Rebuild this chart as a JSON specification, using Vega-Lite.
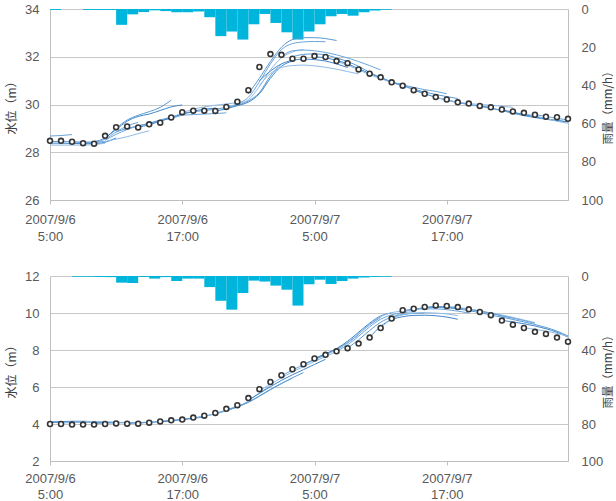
{
  "$schema": "https://vega.github.io/schema/vega-lite/v6.json",
  "background": "white",
  "padding": {"left": 5, "top": 3, "right": 0, "bottom": 0},
  "spacing": 26,
  "datasets": {
    "obsTop": [
      {"t":"2007-09-06T05:00","v":28.48},{"t":"2007-09-06T06:00","v":28.48},{"t":"2007-09-06T07:00","v":28.44},{"t":"2007-09-06T08:00","v":28.38},
      {"t":"2007-09-06T09:00","v":28.36},{"t":"2007-09-06T10:00","v":28.69},{"t":"2007-09-06T11:00","v":29.05},{"t":"2007-09-06T12:00","v":29.08},
      {"t":"2007-09-06T13:00","v":29.04},{"t":"2007-09-06T14:00","v":29.17},{"t":"2007-09-06T15:00","v":29.24},{"t":"2007-09-06T16:00","v":29.46},
      {"t":"2007-09-06T17:00","v":29.68},{"t":"2007-09-06T18:00","v":29.74},{"t":"2007-09-06T19:00","v":29.74},{"t":"2007-09-06T20:00","v":29.73},
      {"t":"2007-09-06T21:00","v":29.9},{"t":"2007-09-06T22:00","v":30.12},{"t":"2007-09-06T23:00","v":30.6},{"t":"2007-09-07T00:00","v":31.57},
      {"t":"2007-09-07T01:00","v":32.11},{"t":"2007-09-07T02:00","v":32.08},{"t":"2007-09-07T03:00","v":31.92},{"t":"2007-09-07T04:00","v":31.92},
      {"t":"2007-09-07T05:00","v":32.03},{"t":"2007-09-07T06:00","v":31.99},{"t":"2007-09-07T07:00","v":31.82},{"t":"2007-09-07T08:00","v":31.73},
      {"t":"2007-09-07T09:00","v":31.47},{"t":"2007-09-07T10:00","v":31.29},{"t":"2007-09-07T11:00","v":31.14},{"t":"2007-09-07T12:00","v":30.93},
      {"t":"2007-09-07T13:00","v":30.79},{"t":"2007-09-07T14:00","v":30.6},{"t":"2007-09-07T15:00","v":30.45},{"t":"2007-09-07T16:00","v":30.31},
      {"t":"2007-09-07T17:00","v":30.21},{"t":"2007-09-07T18:00","v":30.09},{"t":"2007-09-07T19:00","v":30.04},{"t":"2007-09-07T20:00","v":29.94},
      {"t":"2007-09-07T21:00","v":29.88},{"t":"2007-09-07T22:00","v":29.79},{"t":"2007-09-07T23:00","v":29.71},{"t":"2007-09-08T00:00","v":29.65},
      {"t":"2007-09-08T01:00","v":29.57},{"t":"2007-09-08T02:00","v":29.49},{"t":"2007-09-08T03:00","v":29.47},{"t":"2007-09-08T04:00","v":29.4}
    ],
    "obsBottom": [
      {"t":"2007-09-06T05:00","v":4.0},{"t":"2007-09-06T06:00","v":4.0},{"t":"2007-09-06T07:00","v":3.97},{"t":"2007-09-06T08:00","v":3.97},
      {"t":"2007-09-06T09:00","v":3.97},{"t":"2007-09-06T10:00","v":4.0},{"t":"2007-09-06T11:00","v":4.03},{"t":"2007-09-06T12:00","v":4.02},
      {"t":"2007-09-06T13:00","v":4.02},{"t":"2007-09-06T14:00","v":4.07},{"t":"2007-09-06T15:00","v":4.14},{"t":"2007-09-06T16:00","v":4.2},
      {"t":"2007-09-06T17:00","v":4.24},{"t":"2007-09-06T18:00","v":4.35},{"t":"2007-09-06T19:00","v":4.45},{"t":"2007-09-06T20:00","v":4.6},
      {"t":"2007-09-06T21:00","v":4.82},{"t":"2007-09-06T22:00","v":5.02},{"t":"2007-09-06T23:00","v":5.4},{"t":"2007-09-07T00:00","v":5.88},
      {"t":"2007-09-07T01:00","v":6.27},{"t":"2007-09-07T02:00","v":6.64},{"t":"2007-09-07T03:00","v":6.96},{"t":"2007-09-07T04:00","v":7.23},
      {"t":"2007-09-07T05:00","v":7.54},{"t":"2007-09-07T06:00","v":7.74},{"t":"2007-09-07T07:00","v":7.93},{"t":"2007-09-07T08:00","v":8.1},
      {"t":"2007-09-07T09:00","v":8.35},{"t":"2007-09-07T10:00","v":8.67},{"t":"2007-09-07T11:00","v":9.19},{"t":"2007-09-07T12:00","v":9.7},
      {"t":"2007-09-07T13:00","v":10.15},{"t":"2007-09-07T14:00","v":10.23},{"t":"2007-09-07T15:00","v":10.33},{"t":"2007-09-07T16:00","v":10.41},
      {"t":"2007-09-07T17:00","v":10.38},{"t":"2007-09-07T18:00","v":10.32},{"t":"2007-09-07T19:00","v":10.2},{"t":"2007-09-07T20:00","v":10.06},
      {"t":"2007-09-07T21:00","v":9.88},{"t":"2007-09-07T22:00","v":9.59},{"t":"2007-09-07T23:00","v":9.37},{"t":"2007-09-08T00:00","v":9.19},
      {"t":"2007-09-08T01:00","v":8.98},{"t":"2007-09-08T02:00","v":8.87},{"t":"2007-09-08T03:00","v":8.67},{"t":"2007-09-08T04:00","v":8.45}
    ],
    "rainTop": [
      {"t":"2007-09-06T05:00","t_end":"2007-09-06T06:00","rain":0.5},
      {"t":"2007-09-06T08:00","t_end":"2007-09-06T09:00","rain":0.5},
      {"t":"2007-09-06T09:00","t_end":"2007-09-06T10:00","rain":0.5},
      {"t":"2007-09-06T10:00","t_end":"2007-09-06T11:00","rain":0.5},
      {"t":"2007-09-06T11:00","t_end":"2007-09-06T12:00","rain":8.3},
      {"t":"2007-09-06T12:00","t_end":"2007-09-06T13:00","rain":2.8},
      {"t":"2007-09-06T13:00","t_end":"2007-09-06T14:00","rain":1.6},
      {"t":"2007-09-06T14:00","t_end":"2007-09-06T15:00","rain":0.7},
      {"t":"2007-09-06T15:00","t_end":"2007-09-06T16:00","rain":1.1},
      {"t":"2007-09-06T16:00","t_end":"2007-09-06T17:00","rain":1.7},
      {"t":"2007-09-06T17:00","t_end":"2007-09-06T18:00","rain":1.7},
      {"t":"2007-09-06T18:00","t_end":"2007-09-06T19:00","rain":1.3},
      {"t":"2007-09-06T19:00","t_end":"2007-09-06T20:00","rain":4.3},
      {"t":"2007-09-06T20:00","t_end":"2007-09-06T21:00","rain":14.2},
      {"t":"2007-09-06T21:00","t_end":"2007-09-06T22:00","rain":11.8},
      {"t":"2007-09-06T22:00","t_end":"2007-09-06T23:00","rain":16.0},
      {"t":"2007-09-06T23:00","t_end":"2007-09-07T00:00","rain":8.0},
      {"t":"2007-09-07T00:00","t_end":"2007-09-07T01:00","rain":2.6},
      {"t":"2007-09-07T01:00","t_end":"2007-09-07T02:00","rain":7.3},
      {"t":"2007-09-07T02:00","t_end":"2007-09-07T03:00","rain":12.2},
      {"t":"2007-09-07T03:00","t_end":"2007-09-07T04:00","rain":16.0},
      {"t":"2007-09-07T04:00","t_end":"2007-09-07T05:00","rain":11.8},
      {"t":"2007-09-07T05:00","t_end":"2007-09-07T06:00","rain":8.0},
      {"t":"2007-09-07T06:00","t_end":"2007-09-07T07:00","rain":3.8},
      {"t":"2007-09-07T07:00","t_end":"2007-09-07T08:00","rain":2.6},
      {"t":"2007-09-07T08:00","t_end":"2007-09-07T09:00","rain":3.5},
      {"t":"2007-09-07T09:00","t_end":"2007-09-07T10:00","rain":1.7},
      {"t":"2007-09-07T10:00","t_end":"2007-09-07T11:00","rain":0.8},
      {"t":"2007-09-07T11:00","t_end":"2007-09-07T12:00","rain":0.4}
    ],
    "rainBottom": [
      {"t":"2007-09-06T07:00","t_end":"2007-09-06T08:00","rain":0.4},
      {"t":"2007-09-06T08:00","t_end":"2007-09-06T09:00","rain":0.4},
      {"t":"2007-09-06T09:00","t_end":"2007-09-06T10:00","rain":0.5},
      {"t":"2007-09-06T10:00","t_end":"2007-09-06T11:00","rain":0.6},
      {"t":"2007-09-06T11:00","t_end":"2007-09-06T12:00","rain":3.6},
      {"t":"2007-09-06T12:00","t_end":"2007-09-06T13:00","rain":3.8},
      {"t":"2007-09-06T13:00","t_end":"2007-09-06T14:00","rain":0.5},
      {"t":"2007-09-06T14:00","t_end":"2007-09-06T15:00","rain":1.4},
      {"t":"2007-09-06T15:00","t_end":"2007-09-06T16:00","rain":0.6},
      {"t":"2007-09-06T16:00","t_end":"2007-09-06T17:00","rain":2.7},
      {"t":"2007-09-06T17:00","t_end":"2007-09-06T18:00","rain":1.4},
      {"t":"2007-09-06T18:00","t_end":"2007-09-06T19:00","rain":1.4},
      {"t":"2007-09-06T19:00","t_end":"2007-09-06T20:00","rain":6.0},
      {"t":"2007-09-06T20:00","t_end":"2007-09-06T21:00","rain":13.4},
      {"t":"2007-09-06T21:00","t_end":"2007-09-06T22:00","rain":18.2},
      {"t":"2007-09-06T22:00","t_end":"2007-09-06T23:00","rain":9.2},
      {"t":"2007-09-06T23:00","t_end":"2007-09-07T00:00","rain":2.5},
      {"t":"2007-09-07T00:00","t_end":"2007-09-07T01:00","rain":3.0},
      {"t":"2007-09-07T01:00","t_end":"2007-09-07T02:00","rain":5.2},
      {"t":"2007-09-07T02:00","t_end":"2007-09-07T03:00","rain":7.4},
      {"t":"2007-09-07T03:00","t_end":"2007-09-07T04:00","rain":16.0},
      {"t":"2007-09-07T04:00","t_end":"2007-09-07T05:00","rain":4.5},
      {"t":"2007-09-07T05:00","t_end":"2007-09-07T06:00","rain":2.0},
      {"t":"2007-09-07T06:00","t_end":"2007-09-07T07:00","rain":4.3},
      {"t":"2007-09-07T07:00","t_end":"2007-09-07T08:00","rain":2.7},
      {"t":"2007-09-07T08:00","t_end":"2007-09-07T09:00","rain":1.4},
      {"t":"2007-09-07T09:00","t_end":"2007-09-07T10:00","rain":0.8},
      {"t":"2007-09-07T10:00","t_end":"2007-09-07T11:00","rain":0.5},
      {"t":"2007-09-07T11:00","t_end":"2007-09-07T12:00","rain":0.4}
    ],
    "fcTop": [
      {"run":"T01","t":"2007-09-06T05:00","v":28.68},{"run":"T01","t":"2007-09-06T06:00","v":28.7},{"run":"T01","t":"2007-09-06T07:00","v":28.74},
      {"run":"T02","t":"2007-09-06T05:00","v":28.45},{"run":"T02","t":"2007-09-06T06:00","v":28.45},{"run":"T02","t":"2007-09-06T07:00","v":28.44},{"run":"T02","t":"2007-09-06T08:00","v":28.42},{"run":"T02","t":"2007-09-06T09:00","v":28.42},{"run":"T02","t":"2007-09-06T10:00","v":28.45},
      {"run":"T03","t":"2007-09-06T05:00","v":28.38},{"run":"T03","t":"2007-09-06T06:00","v":28.38},{"run":"T03","t":"2007-09-06T07:00","v":28.37},{"run":"T03","t":"2007-09-06T08:00","v":28.36},{"run":"T03","t":"2007-09-06T09:00","v":28.36},{"run":"T03","t":"2007-09-06T10:00","v":28.42},{"run":"T03","t":"2007-09-06T11:00","v":28.6},
      {"run":"T04","t":"2007-09-06T05:00","v":28.3},{"run":"T04","t":"2007-09-06T06:00","v":28.3},{"run":"T04","t":"2007-09-06T07:00","v":28.3},{"run":"T04","t":"2007-09-06T08:00","v":28.3},{"run":"T04","t":"2007-09-06T09:00","v":28.32},{"run":"T04","t":"2007-09-06T10:00","v":28.38},
      {"run":"T05","t":"2007-09-06T07:00","v":28.42},{"run":"T05","t":"2007-09-06T08:00","v":28.42},{"run":"T05","t":"2007-09-06T09:00","v":28.42},{"run":"T05","t":"2007-09-06T10:00","v":28.55},{"run":"T05","t":"2007-09-06T11:00","v":28.85},{"run":"T05","t":"2007-09-06T12:00","v":29.1},{"run":"T05","t":"2007-09-06T13:00","v":29.25},
      {"run":"T06","t":"2007-09-06T09:00","v":28.45},{"run":"T06","t":"2007-09-06T10:00","v":28.6},{"run":"T06","t":"2007-09-06T11:00","v":29.0},{"run":"T06","t":"2007-09-06T12:00","v":29.35},{"run":"T06","t":"2007-09-06T13:00","v":29.55},{"run":"T06","t":"2007-09-06T14:00","v":29.7},{"run":"T06","t":"2007-09-06T15:00","v":29.88},{"run":"T06","t":"2007-09-06T16:00","v":30.18},
      {"run":"T07","t":"2007-09-06T10:00","v":28.6},{"run":"T07","t":"2007-09-06T11:00","v":28.95},{"run":"T07","t":"2007-09-06T12:00","v":29.3},{"run":"T07","t":"2007-09-06T13:00","v":29.5},{"run":"T07","t":"2007-09-06T14:00","v":29.6},{"run":"T07","t":"2007-09-06T15:00","v":29.75},{"run":"T07","t":"2007-09-06T16:00","v":29.9},{"run":"T07","t":"2007-09-06T17:00","v":29.98},
      {"run":"T08","t":"2007-09-06T09:00","v":28.38},{"run":"T08","t":"2007-09-06T10:00","v":28.45},{"run":"T08","t":"2007-09-06T11:00","v":28.55},{"run":"T08","t":"2007-09-06T12:00","v":28.65},{"run":"T08","t":"2007-09-06T13:00","v":28.78},{"run":"T08","t":"2007-09-06T14:00","v":28.9},
      {"run":"T09","t":"2007-09-06T10:00","v":28.5},{"run":"T09","t":"2007-09-06T11:00","v":28.75},{"run":"T09","t":"2007-09-06T12:00","v":28.95},{"run":"T09","t":"2007-09-06T13:00","v":29.1},{"run":"T09","t":"2007-09-06T14:00","v":29.2},{"run":"T09","t":"2007-09-06T15:00","v":29.32},{"run":"T09","t":"2007-09-06T16:00","v":29.42},{"run":"T09","t":"2007-09-06T17:00","v":29.55},
      {"run":"T10","t":"2007-09-06T11:00","v":28.85},{"run":"T10","t":"2007-09-06T12:00","v":29.0},{"run":"T10","t":"2007-09-06T13:00","v":29.1},{"run":"T10","t":"2007-09-06T14:00","v":29.22},{"run":"T10","t":"2007-09-06T15:00","v":29.35},{"run":"T10","t":"2007-09-06T16:00","v":29.48},{"run":"T10","t":"2007-09-06T17:00","v":29.6},{"run":"T10","t":"2007-09-06T18:00","v":29.7},
      {"run":"T11","t":"2007-09-06T13:00","v":29.05},{"run":"T11","t":"2007-09-06T14:00","v":29.15},{"run":"T11","t":"2007-09-06T15:00","v":29.3},{"run":"T11","t":"2007-09-06T16:00","v":29.45},{"run":"T11","t":"2007-09-06T17:00","v":29.6},{"run":"T11","t":"2007-09-06T18:00","v":29.72},{"run":"T11","t":"2007-09-06T19:00","v":29.8},{"run":"T11","t":"2007-09-06T20:00","v":29.85},
      {"run":"T12","t":"2007-09-06T16:00","v":29.45},{"run":"T12","t":"2007-09-06T17:00","v":29.65},{"run":"T12","t":"2007-09-06T18:00","v":29.8},{"run":"T12","t":"2007-09-06T19:00","v":29.9},{"run":"T12","t":"2007-09-06T20:00","v":29.97},{"run":"T12","t":"2007-09-06T21:00","v":30.02},{"run":"T12","t":"2007-09-06T22:00","v":30.08},
      {"run":"T13","t":"2007-09-06T17:00","v":29.55},{"run":"T13","t":"2007-09-06T18:00","v":29.58},{"run":"T13","t":"2007-09-06T19:00","v":29.6},{"run":"T13","t":"2007-09-06T20:00","v":29.62},{"run":"T13","t":"2007-09-06T21:00","v":29.65},
      {"run":"T14","t":"2007-09-06T18:00","v":29.7},{"run":"T14","t":"2007-09-06T19:00","v":29.75},{"run":"T14","t":"2007-09-06T20:00","v":29.8},{"run":"T14","t":"2007-09-06T21:00","v":29.88},{"run":"T14","t":"2007-09-06T22:00","v":29.98},{"run":"T14","t":"2007-09-06T23:00","v":30.15},{"run":"T14","t":"2007-09-07T00:00","v":30.5},{"run":"T14","t":"2007-09-07T01:00","v":31.2},{"run":"T14","t":"2007-09-07T02:00","v":31.7},
      {"run":"T15","t":"2007-09-06T20:00","v":29.72},{"run":"T15","t":"2007-09-06T21:00","v":29.82},{"run":"T15","t":"2007-09-06T22:00","v":29.95},{"run":"T15","t":"2007-09-06T23:00","v":30.1},{"run":"T15","t":"2007-09-07T00:00","v":30.45},{"run":"T15","t":"2007-09-07T01:00","v":31.1},{"run":"T15","t":"2007-09-07T02:00","v":31.6},{"run":"T15","t":"2007-09-07T03:00","v":31.82},
      {"run":"T16","t":"2007-09-06T21:00","v":29.9},{"run":"T16","t":"2007-09-06T22:00","v":30.02},{"run":"T16","t":"2007-09-06T23:00","v":30.2},{"run":"T16","t":"2007-09-07T00:00","v":30.75},{"run":"T16","t":"2007-09-07T01:00","v":31.45},{"run":"T16","t":"2007-09-07T02:00","v":31.95},{"run":"T16","t":"2007-09-07T03:00","v":32.2},{"run":"T16","t":"2007-09-07T04:00","v":32.3},
      {"run":"T17","t":"2007-09-06T22:00","v":30.05},{"run":"T17","t":"2007-09-06T23:00","v":30.3},{"run":"T17","t":"2007-09-07T00:00","v":30.95},{"run":"T17","t":"2007-09-07T01:00","v":31.7},{"run":"T17","t":"2007-09-07T02:00","v":32.3},{"run":"T17","t":"2007-09-07T03:00","v":32.55},{"run":"T17","t":"2007-09-07T04:00","v":32.62},{"run":"T17","t":"2007-09-07T05:00","v":32.64},{"run":"T17","t":"2007-09-07T06:00","v":32.63},
      {"run":"T18","t":"2007-09-06T23:00","v":30.45},{"run":"T18","t":"2007-09-07T00:00","v":31.1},{"run":"T18","t":"2007-09-07T01:00","v":31.8},{"run":"T18","t":"2007-09-07T02:00","v":32.4},{"run":"T18","t":"2007-09-07T03:00","v":32.72},{"run":"T18","t":"2007-09-07T04:00","v":32.8},{"run":"T18","t":"2007-09-07T05:00","v":32.8},{"run":"T18","t":"2007-09-07T06:00","v":32.76},{"run":"T18","t":"2007-09-07T07:00","v":32.68},
      {"run":"T19","t":"2007-09-07T00:00","v":31.0},{"run":"T19","t":"2007-09-07T01:00","v":31.4},{"run":"T19","t":"2007-09-07T02:00","v":31.7},{"run":"T19","t":"2007-09-07T03:00","v":31.85},{"run":"T19","t":"2007-09-07T04:00","v":31.9},{"run":"T19","t":"2007-09-07T05:00","v":31.88},{"run":"T19","t":"2007-09-07T06:00","v":31.82},{"run":"T19","t":"2007-09-07T07:00","v":31.7},{"run":"T19","t":"2007-09-07T08:00","v":31.55},
      {"run":"T20","t":"2007-09-07T00:00","v":30.8},{"run":"T20","t":"2007-09-07T01:00","v":31.3},{"run":"T20","t":"2007-09-07T02:00","v":31.55},{"run":"T20","t":"2007-09-07T03:00","v":31.63},{"run":"T20","t":"2007-09-07T04:00","v":31.65},{"run":"T20","t":"2007-09-07T05:00","v":31.62},{"run":"T20","t":"2007-09-07T06:00","v":31.56},{"run":"T20","t":"2007-09-07T07:00","v":31.48},{"run":"T20","t":"2007-09-07T08:00","v":31.38},{"run":"T20","t":"2007-09-07T09:00","v":31.28},
      {"run":"T21","t":"2007-09-07T02:00","v":32.0},{"run":"T21","t":"2007-09-07T03:00","v":32.25},{"run":"T21","t":"2007-09-07T04:00","v":32.28},{"run":"T21","t":"2007-09-07T05:00","v":32.25},{"run":"T21","t":"2007-09-07T06:00","v":32.18},{"run":"T21","t":"2007-09-07T07:00","v":32.08},{"run":"T21","t":"2007-09-07T08:00","v":31.95},{"run":"T21","t":"2007-09-07T09:00","v":31.8},{"run":"T21","t":"2007-09-07T10:00","v":31.63},{"run":"T21","t":"2007-09-07T11:00","v":31.45},
      {"run":"T22","t":"2007-09-07T03:00","v":32.0},{"run":"T22","t":"2007-09-07T04:00","v":32.1},{"run":"T22","t":"2007-09-07T05:00","v":32.12},{"run":"T22","t":"2007-09-07T06:00","v":32.08},{"run":"T22","t":"2007-09-07T07:00","v":31.95},{"run":"T22","t":"2007-09-07T08:00","v":31.8},{"run":"T22","t":"2007-09-07T09:00","v":31.6},{"run":"T22","t":"2007-09-07T10:00","v":31.35},{"run":"T22","t":"2007-09-07T11:00","v":31.12},{"run":"T22","t":"2007-09-07T12:00","v":30.92},
      {"run":"T23","t":"2007-09-07T05:00","v":32.0},{"run":"T23","t":"2007-09-07T06:00","v":31.95},{"run":"T23","t":"2007-09-07T07:00","v":31.85},{"run":"T23","t":"2007-09-07T08:00","v":31.7},{"run":"T23","t":"2007-09-07T09:00","v":31.5},{"run":"T23","t":"2007-09-07T10:00","v":31.3},{"run":"T23","t":"2007-09-07T11:00","v":31.12},{"run":"T23","t":"2007-09-07T12:00","v":30.95},{"run":"T23","t":"2007-09-07T13:00","v":30.82},
      {"run":"T24","t":"2007-09-07T07:00","v":31.8},{"run":"T24","t":"2007-09-07T08:00","v":31.65},{"run":"T24","t":"2007-09-07T09:00","v":31.45},{"run":"T24","t":"2007-09-07T10:00","v":31.25},{"run":"T24","t":"2007-09-07T11:00","v":31.08},{"run":"T24","t":"2007-09-07T12:00","v":30.92},{"run":"T24","t":"2007-09-07T13:00","v":30.78},{"run":"T24","t":"2007-09-07T14:00","v":30.62},{"run":"T24","t":"2007-09-07T15:00","v":30.48},
      {"run":"T25","t":"2007-09-07T11:00","v":31.15},{"run":"T25","t":"2007-09-07T12:00","v":30.95},{"run":"T25","t":"2007-09-07T13:00","v":30.82},{"run":"T25","t":"2007-09-07T14:00","v":30.72},{"run":"T25","t":"2007-09-07T15:00","v":30.62},{"run":"T25","t":"2007-09-07T16:00","v":30.55},{"run":"T25","t":"2007-09-07T17:00","v":30.45},
      {"run":"T26","t":"2007-09-07T12:00","v":30.92},{"run":"T26","t":"2007-09-07T13:00","v":30.8},{"run":"T26","t":"2007-09-07T14:00","v":30.65},{"run":"T26","t":"2007-09-07T15:00","v":30.52},{"run":"T26","t":"2007-09-07T16:00","v":30.42},{"run":"T26","t":"2007-09-07T17:00","v":30.33},{"run":"T26","t":"2007-09-07T18:00","v":30.25},
      {"run":"T27","t":"2007-09-07T14:00","v":30.6},{"run":"T27","t":"2007-09-07T15:00","v":30.45},{"run":"T27","t":"2007-09-07T16:00","v":30.3},{"run":"T27","t":"2007-09-07T17:00","v":30.18},{"run":"T27","t":"2007-09-07T18:00","v":30.08},{"run":"T27","t":"2007-09-07T19:00","v":30.0},{"run":"T27","t":"2007-09-07T20:00","v":29.93},{"run":"T27","t":"2007-09-07T21:00","v":29.87},
      {"run":"T28","t":"2007-09-07T16:00","v":30.3},{"run":"T28","t":"2007-09-07T17:00","v":30.2},{"run":"T28","t":"2007-09-07T18:00","v":30.1},{"run":"T28","t":"2007-09-07T19:00","v":30.04},{"run":"T28","t":"2007-09-07T20:00","v":30.0},{"run":"T28","t":"2007-09-07T21:00","v":29.97},{"run":"T28","t":"2007-09-07T22:00","v":29.93},{"run":"T28","t":"2007-09-07T23:00","v":29.88},
      {"run":"T29","t":"2007-09-07T18:00","v":30.1},{"run":"T29","t":"2007-09-07T19:00","v":30.0},{"run":"T29","t":"2007-09-07T20:00","v":29.92},{"run":"T29","t":"2007-09-07T21:00","v":29.84},{"run":"T29","t":"2007-09-07T22:00","v":29.75},{"run":"T29","t":"2007-09-07T23:00","v":29.65},{"run":"T29","t":"2007-09-08T00:00","v":29.57},{"run":"T29","t":"2007-09-08T01:00","v":29.5},
      {"run":"T30","t":"2007-09-07T20:00","v":29.95},{"run":"T30","t":"2007-09-07T21:00","v":29.85},{"run":"T30","t":"2007-09-07T22:00","v":29.75},{"run":"T30","t":"2007-09-07T23:00","v":29.63},{"run":"T30","t":"2007-09-08T00:00","v":29.53},{"run":"T30","t":"2007-09-08T01:00","v":29.45},{"run":"T30","t":"2007-09-08T02:00","v":29.38},{"run":"T30","t":"2007-09-08T03:00","v":29.32},{"run":"T30","t":"2007-09-08T04:00","v":29.28},
      {"run":"T31","t":"2007-09-07T22:00","v":29.78},{"run":"T31","t":"2007-09-07T23:00","v":29.68},{"run":"T31","t":"2007-09-08T00:00","v":29.58},{"run":"T31","t":"2007-09-08T01:00","v":29.48},{"run":"T31","t":"2007-09-08T02:00","v":29.4},{"run":"T31","t":"2007-09-08T03:00","v":29.33},{"run":"T31","t":"2007-09-08T04:00","v":29.27},
      {"run":"T32","t":"2007-09-08T00:00","v":29.62},{"run":"T32","t":"2007-09-08T01:00","v":29.52},{"run":"T32","t":"2007-09-08T02:00","v":29.42},{"run":"T32","t":"2007-09-08T03:00","v":29.3},{"run":"T32","t":"2007-09-08T04:00","v":29.22},
      {"run":"T33","t":"2007-09-08T01:00","v":29.58},{"run":"T33","t":"2007-09-08T02:00","v":29.5},{"run":"T33","t":"2007-09-08T03:00","v":29.42},{"run":"T33","t":"2007-09-08T04:00","v":29.35}
    ],
    "fcBottom": [
      {"run":"B01","t":"2007-09-06T05:00","v":4.12},{"run":"B01","t":"2007-09-06T06:00","v":4.13},{"run":"B01","t":"2007-09-06T07:00","v":4.15},{"run":"B01","t":"2007-09-06T08:00","v":4.15},{"run":"B01","t":"2007-09-06T09:00","v":4.13},{"run":"B01","t":"2007-09-06T10:00","v":4.12},
      {"run":"B02","t":"2007-09-06T05:00","v":4.08},{"run":"B02","t":"2007-09-06T06:00","v":4.1},{"run":"B02","t":"2007-09-06T07:00","v":4.1},{"run":"B02","t":"2007-09-06T08:00","v":4.1},{"run":"B02","t":"2007-09-06T09:00","v":4.1},{"run":"B02","t":"2007-09-06T10:00","v":4.08},{"run":"B02","t":"2007-09-06T11:00","v":4.07},
      {"run":"B03","t":"2007-09-06T06:00","v":4.05},{"run":"B03","t":"2007-09-06T07:00","v":4.08},{"run":"B03","t":"2007-09-06T08:00","v":4.12},{"run":"B03","t":"2007-09-06T09:00","v":4.14},{"run":"B03","t":"2007-09-06T10:00","v":4.13},{"run":"B03","t":"2007-09-06T11:00","v":4.1},{"run":"B03","t":"2007-09-06T12:00","v":4.08},
      {"run":"B04","t":"2007-09-06T09:00","v":4.02},{"run":"B04","t":"2007-09-06T10:00","v":4.05},{"run":"B04","t":"2007-09-06T11:00","v":4.06},{"run":"B04","t":"2007-09-06T12:00","v":4.07},{"run":"B04","t":"2007-09-06T13:00","v":4.08},{"run":"B04","t":"2007-09-06T14:00","v":4.1},{"run":"B04","t":"2007-09-06T15:00","v":4.13},{"run":"B04","t":"2007-09-06T16:00","v":4.18},
      {"run":"B05","t":"2007-09-06T12:00","v":4.03},{"run":"B05","t":"2007-09-06T13:00","v":4.05},{"run":"B05","t":"2007-09-06T14:00","v":4.08},{"run":"B05","t":"2007-09-06T15:00","v":4.12},{"run":"B05","t":"2007-09-06T16:00","v":4.18},{"run":"B05","t":"2007-09-06T17:00","v":4.24},{"run":"B05","t":"2007-09-06T18:00","v":4.3},{"run":"B05","t":"2007-09-06T19:00","v":4.38},
      {"run":"B06","t":"2007-09-06T15:00","v":4.13},{"run":"B06","t":"2007-09-06T16:00","v":4.18},{"run":"B06","t":"2007-09-06T17:00","v":4.24},{"run":"B06","t":"2007-09-06T18:00","v":4.32},{"run":"B06","t":"2007-09-06T19:00","v":4.42},{"run":"B06","t":"2007-09-06T20:00","v":4.55},{"run":"B06","t":"2007-09-06T21:00","v":4.72},{"run":"B06","t":"2007-09-06T22:00","v":4.92},
      {"run":"B07","t":"2007-09-06T18:00","v":4.33},{"run":"B07","t":"2007-09-06T19:00","v":4.42},{"run":"B07","t":"2007-09-06T20:00","v":4.55},{"run":"B07","t":"2007-09-06T21:00","v":4.72},{"run":"B07","t":"2007-09-06T22:00","v":4.93},{"run":"B07","t":"2007-09-06T23:00","v":5.25},{"run":"B07","t":"2007-09-07T00:00","v":5.68},{"run":"B07","t":"2007-09-07T01:00","v":6.08},
      {"run":"B08","t":"2007-09-06T20:00","v":4.58},{"run":"B08","t":"2007-09-06T21:00","v":4.74},{"run":"B08","t":"2007-09-06T22:00","v":4.92},{"run":"B08","t":"2007-09-06T23:00","v":5.18},{"run":"B08","t":"2007-09-07T00:00","v":5.52},{"run":"B08","t":"2007-09-07T01:00","v":5.88},{"run":"B08","t":"2007-09-07T02:00","v":6.2},{"run":"B08","t":"2007-09-07T03:00","v":6.48},
      {"run":"B09","t":"2007-09-06T21:00","v":4.78},{"run":"B09","t":"2007-09-06T22:00","v":4.95},{"run":"B09","t":"2007-09-06T23:00","v":5.17},{"run":"B09","t":"2007-09-07T00:00","v":5.5},{"run":"B09","t":"2007-09-07T01:00","v":5.85},{"run":"B09","t":"2007-09-07T02:00","v":6.18},{"run":"B09","t":"2007-09-07T03:00","v":6.5},{"run":"B09","t":"2007-09-07T04:00","v":6.78},
      {"run":"B10","t":"2007-09-06T23:00","v":5.3},{"run":"B10","t":"2007-09-07T00:00","v":5.65},{"run":"B10","t":"2007-09-07T01:00","v":6.02},{"run":"B10","t":"2007-09-07T02:00","v":6.36},{"run":"B10","t":"2007-09-07T03:00","v":6.66},{"run":"B10","t":"2007-09-07T04:00","v":6.94},{"run":"B10","t":"2007-09-07T05:00","v":7.22},{"run":"B10","t":"2007-09-07T06:00","v":7.5},
      {"run":"B11","t":"2007-09-07T00:00","v":5.8},{"run":"B11","t":"2007-09-07T01:00","v":6.15},{"run":"B11","t":"2007-09-07T02:00","v":6.5},{"run":"B11","t":"2007-09-07T03:00","v":6.82},{"run":"B11","t":"2007-09-07T04:00","v":7.1},{"run":"B11","t":"2007-09-07T05:00","v":7.38},{"run":"B11","t":"2007-09-07T06:00","v":7.64},{"run":"B11","t":"2007-09-07T07:00","v":7.92},
      {"run":"B12","t":"2007-09-07T02:00","v":6.6},{"run":"B12","t":"2007-09-07T03:00","v":6.92},{"run":"B12","t":"2007-09-07T04:00","v":7.2},{"run":"B12","t":"2007-09-07T05:00","v":7.47},{"run":"B12","t":"2007-09-07T06:00","v":7.74},{"run":"B12","t":"2007-09-07T07:00","v":8.05},{"run":"B12","t":"2007-09-07T08:00","v":8.4},{"run":"B12","t":"2007-09-07T09:00","v":8.82},
      {"run":"B13","t":"2007-09-07T04:00","v":7.23},{"run":"B13","t":"2007-09-07T05:00","v":7.5},{"run":"B13","t":"2007-09-07T06:00","v":7.76},{"run":"B13","t":"2007-09-07T07:00","v":8.03},{"run":"B13","t":"2007-09-07T08:00","v":8.38},{"run":"B13","t":"2007-09-07T09:00","v":8.87},{"run":"B13","t":"2007-09-07T10:00","v":9.36},{"run":"B13","t":"2007-09-07T11:00","v":9.76},
      {"run":"B14","t":"2007-09-07T05:00","v":7.54},{"run":"B14","t":"2007-09-07T06:00","v":7.8},{"run":"B14","t":"2007-09-07T07:00","v":8.08},{"run":"B14","t":"2007-09-07T08:00","v":8.47},{"run":"B14","t":"2007-09-07T09:00","v":8.96},{"run":"B14","t":"2007-09-07T10:00","v":9.45},{"run":"B14","t":"2007-09-07T11:00","v":9.84},{"run":"B14","t":"2007-09-07T12:00","v":10.0},
      {"run":"B15","t":"2007-09-07T06:00","v":7.74},{"run":"B15","t":"2007-09-07T07:00","v":8.02},{"run":"B15","t":"2007-09-07T08:00","v":8.38},{"run":"B15","t":"2007-09-07T09:00","v":8.88},{"run":"B15","t":"2007-09-07T10:00","v":9.4},{"run":"B15","t":"2007-09-07T11:00","v":9.8},{"run":"B15","t":"2007-09-07T12:00","v":10.02},{"run":"B15","t":"2007-09-07T13:00","v":10.1},
      {"run":"B16","t":"2007-09-07T07:00","v":7.93},{"run":"B16","t":"2007-09-07T08:00","v":8.28},{"run":"B16","t":"2007-09-07T09:00","v":8.74},{"run":"B16","t":"2007-09-07T10:00","v":9.25},{"run":"B16","t":"2007-09-07T11:00","v":9.66},{"run":"B16","t":"2007-09-07T12:00","v":9.9},{"run":"B16","t":"2007-09-07T13:00","v":10.02},{"run":"B16","t":"2007-09-07T14:00","v":10.06},
      {"run":"B17","t":"2007-09-07T08:00","v":8.1},{"run":"B17","t":"2007-09-07T09:00","v":8.55},{"run":"B17","t":"2007-09-07T10:00","v":9.05},{"run":"B17","t":"2007-09-07T11:00","v":9.5},{"run":"B17","t":"2007-09-07T12:00","v":9.78},{"run":"B17","t":"2007-09-07T13:00","v":9.92},{"run":"B17","t":"2007-09-07T14:00","v":9.98},{"run":"B17","t":"2007-09-07T15:00","v":10.0},
      {"run":"B18","t":"2007-09-07T10:00","v":8.67},{"run":"B18","t":"2007-09-07T11:00","v":9.28},{"run":"B18","t":"2007-09-07T12:00","v":9.64},{"run":"B18","t":"2007-09-07T13:00","v":9.8},{"run":"B18","t":"2007-09-07T14:00","v":9.87},{"run":"B18","t":"2007-09-07T15:00","v":9.88},{"run":"B18","t":"2007-09-07T16:00","v":9.85},{"run":"B18","t":"2007-09-07T17:00","v":9.78},{"run":"B18","t":"2007-09-07T18:00","v":9.66},
      {"run":"B19","t":"2007-09-07T11:00","v":9.19},{"run":"B19","t":"2007-09-07T12:00","v":9.68},{"run":"B19","t":"2007-09-07T13:00","v":9.9},{"run":"B19","t":"2007-09-07T14:00","v":10.0},{"run":"B19","t":"2007-09-07T15:00","v":10.02},{"run":"B19","t":"2007-09-07T16:00","v":10.0},{"run":"B19","t":"2007-09-07T17:00","v":9.95},{"run":"B19","t":"2007-09-07T18:00","v":9.86},
      {"run":"B20","t":"2007-09-07T12:00","v":9.7},{"run":"B20","t":"2007-09-07T13:00","v":10.05},{"run":"B20","t":"2007-09-07T14:00","v":10.18},{"run":"B20","t":"2007-09-07T15:00","v":10.22},{"run":"B20","t":"2007-09-07T16:00","v":10.22},{"run":"B20","t":"2007-09-07T17:00","v":10.18},{"run":"B20","t":"2007-09-07T18:00","v":10.1},{"run":"B20","t":"2007-09-07T19:00","v":10.0},
      {"run":"B21","t":"2007-09-07T13:00","v":10.12},{"run":"B21","t":"2007-09-07T14:00","v":10.22},{"run":"B21","t":"2007-09-07T15:00","v":10.28},{"run":"B21","t":"2007-09-07T16:00","v":10.3},{"run":"B21","t":"2007-09-07T17:00","v":10.28},{"run":"B21","t":"2007-09-07T18:00","v":10.22},{"run":"B21","t":"2007-09-07T19:00","v":10.13},{"run":"B21","t":"2007-09-07T20:00","v":10.02},{"run":"B21","t":"2007-09-07T21:00","v":9.9},
      {"run":"B22","t":"2007-09-07T15:00","v":10.3},{"run":"B22","t":"2007-09-07T16:00","v":10.35},{"run":"B22","t":"2007-09-07T17:00","v":10.33},{"run":"B22","t":"2007-09-07T18:00","v":10.28},{"run":"B22","t":"2007-09-07T19:00","v":10.2},{"run":"B22","t":"2007-09-07T20:00","v":10.1},{"run":"B22","t":"2007-09-07T21:00","v":9.98},{"run":"B22","t":"2007-09-07T22:00","v":9.86},{"run":"B22","t":"2007-09-07T23:00","v":9.74},
      {"run":"B23","t":"2007-09-07T17:00","v":10.36},{"run":"B23","t":"2007-09-07T18:00","v":10.3},{"run":"B23","t":"2007-09-07T19:00","v":10.22},{"run":"B23","t":"2007-09-07T20:00","v":10.12},{"run":"B23","t":"2007-09-07T21:00","v":10.01},{"run":"B23","t":"2007-09-07T22:00","v":9.89},{"run":"B23","t":"2007-09-07T23:00","v":9.76},{"run":"B23","t":"2007-09-08T00:00","v":9.62},{"run":"B23","t":"2007-09-08T01:00","v":9.48},
      {"run":"B24","t":"2007-09-07T19:00","v":10.2},{"run":"B24","t":"2007-09-07T20:00","v":10.1},{"run":"B24","t":"2007-09-07T21:00","v":9.98},{"run":"B24","t":"2007-09-07T22:00","v":9.85},{"run":"B24","t":"2007-09-07T23:00","v":9.72},{"run":"B24","t":"2007-09-08T00:00","v":9.59},{"run":"B24","t":"2007-09-08T01:00","v":9.45},
      {"run":"B25","t":"2007-09-07T21:00","v":9.88},{"run":"B25","t":"2007-09-07T22:00","v":9.78},{"run":"B25","t":"2007-09-07T23:00","v":9.65},{"run":"B25","t":"2007-09-08T00:00","v":9.52},{"run":"B25","t":"2007-09-08T01:00","v":9.38},{"run":"B25","t":"2007-09-08T02:00","v":9.22},{"run":"B25","t":"2007-09-08T03:00","v":9.02},{"run":"B25","t":"2007-09-08T04:00","v":8.76},
      {"run":"B26","t":"2007-09-07T22:00","v":9.6},{"run":"B26","t":"2007-09-07T23:00","v":9.52},{"run":"B26","t":"2007-09-08T00:00","v":9.42},{"run":"B26","t":"2007-09-08T01:00","v":9.3},{"run":"B26","t":"2007-09-08T02:00","v":9.15},{"run":"B26","t":"2007-09-08T03:00","v":8.96},{"run":"B26","t":"2007-09-08T04:00","v":8.7},
      {"run":"B27","t":"2007-09-08T00:00","v":9.2},{"run":"B27","t":"2007-09-08T01:00","v":9.12},{"run":"B27","t":"2007-09-08T02:00","v":9.02},{"run":"B27","t":"2007-09-08T03:00","v":8.9},{"run":"B27","t":"2007-09-08T04:00","v":8.74}
    ]
  },
  "vconcat": [
    {
      "width": 518,
      "height": 191,
      "layer": [
        {
          "data": {"name": "rainTop"},
          "mark": {"type": "bar", "color": "#00b5db"},
          "encoding": {
            "x": {"field": "t", "type": "temporal", "scale": {"domain": [{"year": 2007, "month": 9, "date": 6, "hours": 5}, {"year": 2007, "month": 9, "date": 8, "hours": 4}], "nice": false},
                  "axis": {"values": [{"year": 2007, "month": 9, "date": 6, "hours": 5}, {"year": 2007, "month": 9, "date": 6, "hours": 17}, {"year": 2007, "month": 9, "date": 7, "hours": 5}, {"year": 2007, "month": 9, "date": 7, "hours": 17}],
                           "labelExpr": "[timeFormat(datum.value, '%Y/%-m/%-d'), timeFormat(datum.value, '%-H:%M')]", "title": null, "grid": false, "tickSize": 4, "labelLineHeight": 17.5, "labelPadding": 9, "labelFlush": false, "labelOverlap": false}},
            "x2": {"field": "t_end"},
            "y": {"field": "rain", "type": "quantitative", "stack": null, "scale": {"domain": [0, 100], "reverse": true, "nice": false},
                  "axis": {"orient": "right", "values": [0, 20, 40, 60, 80, 100], "grid": false, "ticks": false, "domain": true, "labelPadding": 13, "labelOverlap": false, "title": "雨量（mm/h）", "titleFontSize": 11.5, "titleAngle": 270, "titleBaseline": "top", "titlePadding": 0}},
            "y2": {"datum": 0}
          }
        },
        {
          "layer": [
            {
              "data": {"name": "fcTop"},
              "mark": {"type": "line", "strokeWidth": 1, "interpolate": "monotone"},
              "encoding": {
                "x": {"field": "t", "type": "temporal"},
                "y": {"field": "v", "type": "quantitative", "scale": {"domain": [26, 34], "nice": false, "zero": false},
                      "axis": {"orient": "left", "values": [26, 28, 30, 32, 34], "grid": true, "ticks": false, "labelPadding": 11, "labelOverlap": false, "title": "水位（m）", "titlePadding": 6}},
                "detail": {"field": "run"},
                "color": {"field": "run", "type": "nominal", "legend": null, "scale": {"range": ["#5b9bd5", "#3f86c8", "#8dbbe6", "#6aa5dc"]}}
              }
            },
            {
              "data": {"name": "obsTop"},
              "mark": {"type": "point", "shape": "circle", "size": 24, "filled": true, "fill": "white", "stroke": "#353535", "strokeWidth": 1.6, "opacity": 1},
              "encoding": {
                "x": {"field": "t", "type": "temporal"},
                "y": {"field": "v", "type": "quantitative",
                      "axis": {"orient": "left", "values": [26, 28, 30, 32, 34], "grid": true, "ticks": false, "labelPadding": 11, "labelOverlap": false, "title": "水位（m）", "titlePadding": 6}}
              }
            }
          ]
        }
      ],
      "resolve": {"scale": {"y": "independent"}}
    },
    {
      "width": 518,
      "height": 185,
      "layer": [
        {
          "data": {"name": "rainBottom"},
          "mark": {"type": "bar", "color": "#00b5db"},
          "encoding": {
            "x": {"field": "t", "type": "temporal", "scale": {"domain": [{"year": 2007, "month": 9, "date": 6, "hours": 5}, {"year": 2007, "month": 9, "date": 8, "hours": 4}], "nice": false},
                  "axis": {"values": [{"year": 2007, "month": 9, "date": 6, "hours": 5}, {"year": 2007, "month": 9, "date": 6, "hours": 17}, {"year": 2007, "month": 9, "date": 7, "hours": 5}, {"year": 2007, "month": 9, "date": 7, "hours": 17}],
                           "labelExpr": "[timeFormat(datum.value, '%Y/%-m/%-d'), timeFormat(datum.value, '%-H:%M')]", "title": null, "grid": false, "tickSize": 4, "labelLineHeight": 16, "labelPadding": 7, "labelFlush": false, "labelOverlap": false}},
            "x2": {"field": "t_end"},
            "y": {"field": "rain", "type": "quantitative", "stack": null, "scale": {"domain": [0, 100], "reverse": true, "nice": false},
                  "axis": {"orient": "right", "values": [0, 20, 40, 60, 80, 100], "grid": false, "ticks": false, "domain": true, "labelPadding": 13, "labelOverlap": false, "title": "雨量（mm/h）", "titleFontSize": 11.5, "titleAngle": 270, "titleBaseline": "top", "titlePadding": 0}},
            "y2": {"datum": 0}
          }
        },
        {
          "layer": [
            {
              "data": {"name": "fcBottom"},
              "mark": {"type": "line", "strokeWidth": 1, "interpolate": "monotone"},
              "encoding": {
                "x": {"field": "t", "type": "temporal"},
                "y": {"field": "v", "type": "quantitative", "scale": {"domain": [2, 12], "nice": false, "zero": false},
                      "axis": {"orient": "left", "values": [2, 4, 6, 8, 10, 12], "grid": true, "ticks": false, "labelPadding": 11, "labelOverlap": false, "title": "水位（m）", "titlePadding": 6}},
                "detail": {"field": "run"},
                "color": {"field": "run", "type": "nominal", "legend": null, "scale": {"range": ["#5b9bd5", "#3f86c8", "#8dbbe6", "#6aa5dc"]}}
              }
            },
            {
              "data": {"name": "obsBottom"},
              "mark": {"type": "point", "shape": "circle", "size": 24, "filled": true, "fill": "white", "stroke": "#353535", "strokeWidth": 1.6, "opacity": 1},
              "encoding": {
                "x": {"field": "t", "type": "temporal"},
                "y": {"field": "v", "type": "quantitative",
                      "axis": {"orient": "left", "values": [2, 4, 6, 8, 10, 12], "grid": true, "ticks": false, "labelPadding": 11, "labelOverlap": false, "title": "水位（m）", "titlePadding": 6}}
              }
            }
          ]
        }
      ],
      "resolve": {"scale": {"y": "independent"}}
    }
  ],
  "config": {
    "view": {"stroke": null},
    "font": "Liberation Sans",
    "axis": {
      "labelFont": "Liberation Sans",
      "labelFontSize": 13,
      "labelColor": "#595959",
      "labelOverlap": false,
      "titleFont": "Noto Sans CJK JP",
      "titleFontSize": 12,
      "titleFontWeight": "normal",
      "titleColor": "#404040",
      "domainColor": "#bfbfbf",
      "gridColor": "#c8c8c8",
      "tickColor": "#bfbfbf"
    }
  }
}
